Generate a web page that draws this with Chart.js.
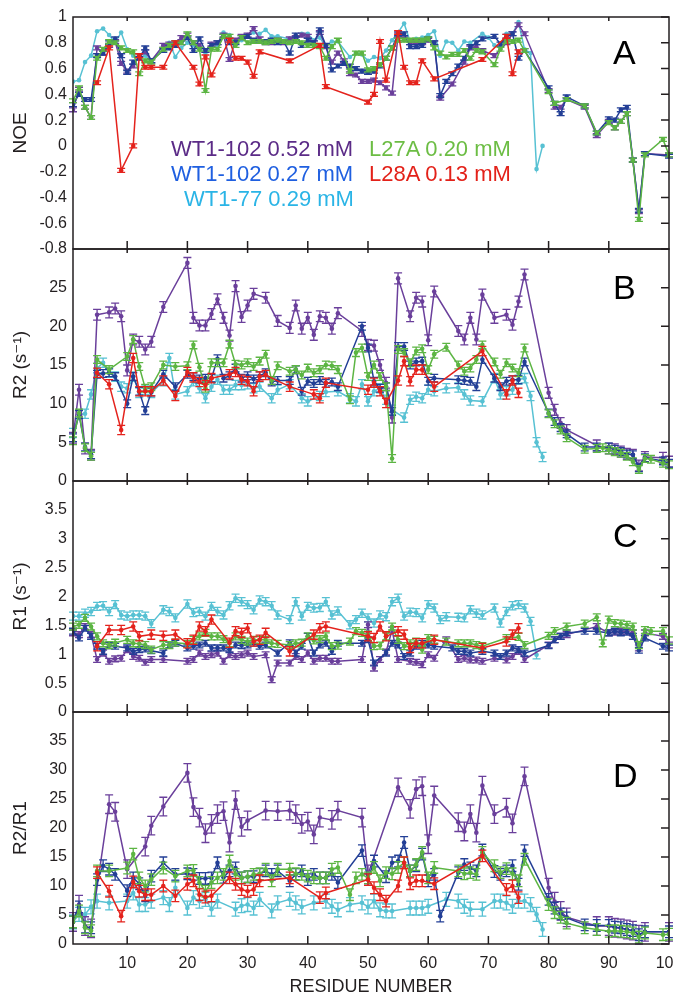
<!DOCTYPE html>
<html>
<head>
<meta charset="utf-8">
<script src="https://cdn.jsdelivr.net/npm/chart.js@4.4.1/dist/chart.umd.min.js"></script>
<style>
  html, body { margin: 0; padding: 0; background: #fff; }
  #fig { position: relative; width: 673px; height: 996px; overflow: hidden; font-family: "Liberation Sans", Arial, sans-serif; }
  #fig canvas { position: absolute; left: 0; }
  .tag { position: absolute; left: 613px; font-size: 34px; line-height: 1; color: #000; }
  .lg { position: absolute; font-size: 22px; line-height: 1; white-space: nowrap; }
</style>
</head>
<body>
<div id="fig">
  <canvas id="cA" width="673" height="262" style="top:0px"></canvas>
  <canvas id="cB" width="673" height="250" style="top:241px"></canvas>
  <canvas id="cC" width="673" height="250" style="top:473px"></canvas>
  <canvas id="cD" width="673" height="292" style="top:704px"></canvas>

  <div class="lg" style="left:171px;top:138px;color:#5b2b87">WT1-102 0.52 mM</div>
  <div class="lg" style="left:171px;top:163px;color:#1f5fe0">WT1-102 0.27 mM</div>
  <div class="lg" style="left:184px;top:188px;color:#2ab4e6">WT1-77 0.29 mM</div>
  <div class="lg" style="left:369px;top:138px;color:#6cbd44">L27A 0.20 mM</div>
  <div class="lg" style="left:369px;top:163px;color:#e32119">L28A 0.13 mM</div>

  <div class="tag" style="top:35px">A</div>
  <div class="tag" style="top:270px">B</div>
  <div class="tag" style="top:518px">C</div>
  <div class="tag" style="top:758px">D</div>
</div>

<script>
// ── DATA ─────────────────────────────────────────────────────────────────────
const _ = null;

const residues = [
  1, 2, 3, 4, 5, 6, 7, 8, 9, 10,
  11, 12, 13, 14, 15, 16, 17, 18, 19, 20,
  21, 22, 23, 24, 25, 26, 27, 28, 29, 30,
  31, 32, 33, 34, 35, 36, 37, 38, 39, 40,
  41, 42, 43, 44, 45, 46, 47, 48, 49, 50,
  51, 52, 53, 54, 55, 56, 57, 58, 59, 60,
  61, 62, 63, 64, 65, 66, 67, 68, 69, 70,
  71, 72, 73, 74, 75, 76, 77, 78, 79, 80,
  81, 82, 83, 84, 85, 86, 87, 88, 89, 90,
  91, 92, 93, 94, 95, 96, 97, 98, 99, 100
];

const xTicks = [10, 20, 30, 40, 50, 60, 70, 80, 90, 100];
const noeTicks = [-0.8, -0.6, -0.4, -0.2, 0, 0.2, 0.4, 0.6, 0.8, 1];
const r2Ticks = [0, 5, 10, 15, 20, 25];
const r1Ticks = [0, 0.5, 1, 1.5, 2, 2.5, 3, 3.5];
const ratioTicks = [0, 5, 10, 15, 20, 25, 30, 35];

// series order everywhere: WT1-102 0.52, WT1-102 0.27, WT1-77, L27A, L28A
const seriesNames = ['WT1-102 0.52 mM', 'WT1-102 0.27 mM', 'WT1-77 0.29 mM', 'L27A 0.20 mM', 'L28A 0.13 mM'];

// NOE
const noeWT52 = [
  .28, .44, .30, .22, .76, .72, .78, .81, .64, .58,
  .62, .70, .73, .66, _, .78, .79, .80, .84, .86,
  .80, .78, .74, .79, .80, .86, .67, .82, .85, .86,
  .91, .83, .80, .80, .82, .80, .83, .84, .86, .85,
  .80, .88, .77, .65, .72, .66, .56, .55, .50, .50,
  .51, .49, .45, .41, .86, .83, .80, .81, .80, .82,
  .80, .37, _, .48, _, .65, .76, .77, .74, _,
  .70, _, .80, .87, .94, .87, _, _, _, .43,
  .30, .30, .36, _, _, .30, _, .08, _, .19,
  .14, .19, .25, -.11, -.51, -.06, _, _, _, -.07
];
const noeWT27 = [
  .32, .40, .36, .36, .70, .72, .80, .83, .70, .57,
  .65, .68, .76, .66, _, .74, .76, .78, .80, .84,
  .74, .83, .74, .78, .80, .85, .80, .80, .84, .85,
  .82, .81, .81, .82, .80, .81, .72, .86, .78, .82,
  .80, .90, .78, .59, .62, .64, .62, .60, .58, .57,
  .58, .62, .68, .76, .87, .87, .77, .77, .78, .83,
  .80, .39, .50, .56, .62, .68, .77, .80, .83, _,
  .85, .79, .85, .87, .68, .74, _, _, _, .45,
  .33, .25, .38, _, _, .31, _, .10, _, .21,
  .20, .28, .30, -.11, -.50, -.06, _, _, _, -.08
];
const noeWT77 = [
  .50, .51, .65, .70, .89, .91, .86, .80, .88, .75,
  .70, .68, .70, .65, _, .78, .80, .69, .76, .80,
  .78, .75, .72, .76, .78, .88, .86, .80, .82, .85,
  .88, .87, .90, .85, .85, _, .83, .84, .87, .87,
  .82, .84, .77, .81, .81, _, .69, .72, .71, .66,
  .69, .68, .74, .82, .88, .95, .81, .83, .84, .86,
  .89, .70, .81, .80, .74, .81, .80, _, .87, .84,
  .78, .76, .87, .87, .96, .75, .72, -.18, .00, _,
  _, _, _, _, _, _, _, _, _, _,
  _, _, _, _, _, _, _, _, _, _
];
const noeL27A = [
  .35, .45, .30, .22, .68, .75, .81, .80, .76, .74,
  .73, .56, .66, .65, _, .75, .78, .80, .80, .87,
  .80, .75, .43, .75, .75, .85, .85, .78, .84, .80,
  .81, .81, .80, .81, .82, .81, .80, .81, .80, .78,
  .78, .77, .68, .77, .82, _, .58, .72, .72, .59,
  .60, .63, .68, .76, .82, .82, .82, .82, .82, .83,
  .76, .72, .69, .71, .71, .74, .68, .74, .73, _,
  .63, .75, .81, .81, .82, .74, _, _, _, .42,
  .33, _, .36, _, _, .31, _, .10, _, .18,
  .14, .19, .25, -.11, -.57, -.07, _, _, .05, -.07
];
const noeL28A = [
  _, _, _, _, .49, _, .76, _, -.19, _,
  .00, .70, .61, .61, _, .61, _, .80, _, _,
  .61, .48, .69, .55, _, _, .82, .68, .68, .65,
  .54, .73, _, _, _, _, .66, _, _, _,
  _, .78, .46, _, _, _, _, _, _, .34,
  .40, .81, .51, _, .88, .61, .49, .49, .66, _,
  .52, _, _, _, _, _, _, _, .67, _,
  _, _, .85, .56, .73, _, _, _, _, _,
  _, _, _, _, _, _, _, _, _, _,
  _, _, _, _, _, _, _, _, _, _
];

// R2 (s-1)
const r2WT52 = [
  5.6, 11.8, 4.2, 3.4, 21.5, _, 21.8, 22.3, 21.3, 14.3,
  18.3, 18.0, 17.0, 18.0, _, 22.5, _, _, _, 28.2,
  21.1, 20.1, 20.1, 21.6, 23.5, 21.1, 18.8, 25.2, 21.2, 22.7,
  24.2, _, 23.7, _, 20.7, _, 19.8, 22.7, 19.7, 21.1,
  18.9, 21.3, 21.1, 19.7, 21.7, _, _, _, 19.4, 17.6,
  17.5, 15.0, 12.7, 8.2, 26.2, _, 21.3, 23.7, 23.2, 18.2,
  24.5, _, _, _, 19.4, 18.3, 21.1, 18.3, 24.1, _,
  21.1, _, 21.5, 20.2, 23.2, 26.7, _, _, _, 11.4,
  9.2, 7.5, 6.6, _, _, _, _, 4.6, _, 4.2,
  4.1, 3.8, 3.5, 3.4, 2.0, 3.1, _, _, 3.0, 2.5
];
const r2WT27 = [
  5.6, 8.6, 4.4, 3.4, 13.8, 13.9, 14.0, 13.5, _, 10.0,
  13.5, 11.6, 9.1, 11.5, _, 13.8, _, 12.2, _, 13.8,
  13.5, 13.2, 13.3, 13.3, 15.8, 13.3, 13.6, 14.6, 13.3, 13.6,
  13.2, 13.6, 14.0, 12.8, 13.0, _, 13.0, 14.4, 11.6, 12.9,
  12.6, 13.0, 12.6, 12.8, 12.2, _, _, _, 20.0, 17.2,
  12.9, 12.0, 12.2, 9.0, 17.4, 17.4, 15.0, 15.4, 15.5, 12.9,
  13.3, _, _, _, 13.1, 13.0, 12.9, 12.2, 15.7, _,
  13.3, 12.2, 12.9, 13.1, 13.1, 15.4, _, _, _, 8.8,
  7.7, 6.9, 6.1, _, _, 4.4, _, 4.4, _, 4.4,
  4.1, 3.8, 3.5, 3.4, 1.7, 3.0, _, _, 2.6, 2.3
];
const r2WT77 = [
  6.2, 8.6, 8.7, 11.2, 14.6, 15.3, 14.0, 13.5, 12.2, 12.0,
  13.5, 11.4, 11.8, 11.4, _, 12.9, 15.9, 11.2, _, 11.6,
  12.9, 12.0, 10.7, 12.2, 13.1, 11.8, 11.8, 12.4, 12.4, 12.5,
  12.0, 12.2, _, 10.7, 11.8, _, 12.5, _, 10.7, 10.3,
  _, 11.0, 11.5, _, 11.6, _, 10.7, 10.3, 12.5, 10.3,
  11.6, 12.0, 10.5, 9.2, _, 8.2, 10.5, 10.9, 10.7, 11.8,
  11.6, _, 12.0, _, 12.1, 11.2, 10.4, _, 10.3, _,
  13.3, 11.2, 11.6, 11.8, 13.1, 13.3, 11.0, 5.0, 3.1, _,
  _, _, _, _, _, _, _, _, _, _,
  _, _, _, _, _, _, _, _, _, _
];
const r2L27A = [
  5.2, 8.8, 4.3, 3.2, 15.7, _, 14.4, _, _, 16.1,
  18.3, 14.8, 12.0, 12.2, _, 15.0, _, 14.8, _, 14.9,
  17.6, 14.7, 12.0, 15.3, 15.3, 15.3, 17.7, 15.1, 15.0, 15.3,
  14.8, 15.5, 16.4, 13.0, 14.9, _, 14.2, 14.4, 13.7, 14.6,
  14.0, 14.4, 15.0, 14.9, 14.4, _, 10.5, 16.6, 17.2, 13.5,
  15.0, 13.5, 12.2, 2.9, 17.0, 16.6, 15.3, 16.8, 17.1, 14.4,
  16.4, _, 17.3, _, 15.0, 14.2, 14.6, 15.7, 17.6, _,
  15.4, 13.8, 15.3, 14.6, 14.0, 17.2, _, _, _, 8.7,
  7.4, 6.6, 5.6, _, _, 4.1, _, 4.2, 4.3, 4.0,
  3.8, 3.6, 3.2, 2.5, 1.5, 2.9, 2.8, _, 2.3, 2.1
];
const r2L28A = [
  _, _, _, _, 14.0, _, 12.5, _, 6.6, _,
  15.9, 11.6, 11.6, 11.6, _, 13.0, _, 11.0, _, 14.1,
  13.4, 12.8, 12.4, 13.3, _, _, 13.8, 14.1, 13.1, 12.9,
  11.6, 13.5, 13.7, _, _, _, 12.2, _, _, _,
  11.2, 10.7, 12.7, _, _, _, _, _, _, 11.8,
  12.7, 11.6, 10.1, _, 13.0, 15.5, 12.9, 14.4, 14.4, _,
  12.2, _, _, _, _, _, _, _, 16.8, _,
  _, _, 11.2, 13.0, 11.4, _, _, _, _, _,
  _, _, _, _, _, _, _, _, _, _,
  _, _, _, _, _, _, _, _, _, _
];

// R1 (s-1)
const r1WT52 = [
  1.37, 1.34, 1.48, 1.34, 0.91, 1.02, 0.88, 0.92, 0.93, 1.08,
  0.96, 0.93, 0.86, 0.91, _, 0.91, _, _, _, 0.88,
  0.91, 1.02, 0.96, 0.99, 1.02, 0.88, 0.99, 0.96, 0.99, 1.02,
  0.96, _, 0.99, 0.56, 0.85, _, 0.85, 0.96, 0.91, 1.02,
  0.88, 0.93, 0.93, 0.88, 0.88, _, _, _, 0.91, 1.51,
  0.76, 0.91, 1.04, 1.42, 0.91, _, 0.88, 0.86, 0.82, 0.99,
  0.93, _, 1.25, _, 0.91, 0.93, 0.90, 0.90, 0.88, _,
  0.93, _, 0.90, 0.96, 1.05, 0.91, _, _, _, 1.16,
  1.25, 1.31, 1.34, _, _, _, _, 1.48, _, 1.37,
  1.38, 1.40, 1.40, 1.37, 1.11, 1.37, _, _, 1.31, 1.16
];
const r1WT27 = [
  1.40, 1.28, 1.45, 1.31, 1.14, 1.05, 1.15, 1.14, _, 1.11,
  1.05, 1.08, 1.09, 1.06, _, 1.02, 1.16, 1.19, _, 1.11,
  1.14, 1.16, 1.19, 1.11, 1.11, 1.11, 1.08, 1.16, 1.15, 1.16,
  1.19, 1.14, 1.16, _, 1.02, _, 1.20, 1.02, 1.14, 1.31,
  1.02, 1.16, 1.19, 1.05, 1.19, _, _, _, 1.19, 1.25,
  0.85, _, 1.02, 1.19, 1.16, 0.96, 1.02, 1.14, 1.19, 1.16,
  1.14, _, _, 1.11, 1.05, 1.05, 1.02, _, 1.05, _,
  1.02, 0.96, 1.02, 1.11, 1.08, 1.02, _, _, _, 1.15,
  1.25, 1.31, 1.37, _, _, 1.40, _, 1.40, _, 1.37,
  1.40, 1.37, 1.38, 1.31, 1.07, 1.28, _, _, 1.14, 1.11
];
const r1WT77 = [
  1.66, 1.66, 1.71, 1.74, 1.83, 1.84, 1.74, 1.86, 1.68, 1.66,
  1.68, 1.68, 1.66, 1.53, _, 1.77, 1.74, 1.63, _, 1.87,
  1.72, 1.74, 1.66, 1.83, 1.74, 1.68, 1.84, 1.97, 1.91, 1.86,
  1.77, 1.94, 1.91, 1.84, 1.68, _, 1.60, 1.91, 1.66, 1.83,
  1.80, 1.81, 1.91, 1.68, 1.75, _, 1.51, 1.60, 1.71, 1.63,
  1.54, 1.68, 1.65, 1.91, 1.97, 1.66, 1.73, 1.72, 1.63, 1.86,
  1.80, 1.60, 1.65, _, 1.64, 1.63, 1.77, 1.71, 1.68, _,
  1.80, 1.54, 1.74, 1.84, 1.86, 1.80, 1.57, 0.99, _, _,
  _, _, _, _, _, _, _, _, _, _,
  _, _, _, _, _, _, _, _, _, _
];
const r1L27A = [
  1.48, 1.51, 1.63, 1.48, 1.31, 1.19, 1.16, 1.20, _, 1.25,
  1.19, 1.18, 1.16, 1.08, _, 1.16, 1.16, 1.20, _, 1.18,
  1.25, 1.31, 1.37, 1.31, 1.31, 1.26, 1.19, 1.31, 1.25, 1.22,
  1.25, 1.25, 1.25, 1.19, 1.18, _, 1.16, 1.19, 1.20, 1.31,
  1.24, 1.26, 1.31, 1.14, 1.15, _, 1.22, 1.40, 1.37, 1.34,
  1.14, 1.15, 1.31, 1.48, 1.25, 1.14, 1.19, 1.22, 1.08, 1.28,
  1.25, _, 1.22, _, 1.19, 1.19, 1.19, 1.16, 1.14, _,
  _, _, 1.28, _, 1.30, 1.16, _, _, _, 1.32,
  1.40, _, 1.48, _, _, 1.53, _, 1.64, 1.19, 1.60,
  1.54, 1.53, 1.51, 1.48, 1.16, 1.42, 1.40, _, 1.40, 1.24
];
const r1L28A = [
  _, _, _, _, 1.14, _, 1.42, _, 1.42, _,
  1.48, 1.31, _, 1.34, _, 1.32, _, 1.34, _, 1.19,
  1.25, 1.48, 1.40, 1.60, _, _, 1.20, 1.40, 1.37, 1.45,
  1.22, 1.25, 1.37, _, _, _, 1.05, _, _, _,
  1.34, 1.45, 1.48, _, _, _, _, _, _, 1.31,
  1.28, 1.48, 1.31, _, 1.40, 1.34, 1.11, 1.19, 1.19, _,
  1.25, _, _, _, _, _, _, _, 1.11, _,
  _, _, 1.22, 1.34, 1.45, _, _, _, _, _,
  _, _, _, _, _, _, _, _, _, _,
  _, _, _, _, _, _, _, _, _, _
];

// R2/R1
const ratioWT52 = [
  3.8, 6.8, 3.1, 2.7, _, _, 24.1, 22.8, _, 12.9,
  _, _, 16.8, 20.4, _, 23.7, _, _, _, 29.5,
  23.6, 21.8, 19.1, 20.7, 22.4, 22.9, 17.5, 24.8, 20.2, 21.3,
  _, _, 23.0, _, 22.9, _, 23.0, 22.4, 20.7, 21.1,
  18.9, 21.8, _, 21.4, 23.0, _, _, _, 21.8, 12.0,
  _, _, _, _, 27.0, _, 23.3, 26.7, 27.2, 17.2,
  25.6, _, _, _, 21.0, 19.4, 22.4, 19.2, 27.3, _,
  22.4, _, 23.5, 20.8, _, 28.9, _, _, _, 9.7,
  7.3, 5.7, 4.6, _, _, _, _, 3.1, _, 3.1,
  2.8, 2.7, 2.5, 2.3, 1.6, 2.1, _, _, _, 2.1
];
const ratioWT27 = [
  3.8, 6.4, 2.9, 2.8, 11.1, 13.5, 12.9, 12.0, _, 9.2,
  11.4, 10.4, 8.3, 11.7, _, 14.0, _, 12.0, _, 12.1,
  12.0, 11.3, 11.3, 11.4, 14.0, 11.5, 12.6, 13.1, 11.4, 11.6,
  11.6, 12.0, 12.6, 12.0, 12.6, _, 10.9, 12.0, 12.6, 11.1,
  12.0, 11.4, 11.4, 12.0, 10.6, _, _, _, 16.1, 11.1,
  14.3, _, 11.6, 14.0, 14.3, 17.5, 12.6, 13.5, 15.5, 10.9,
  12.0, 4.8, _, _, 12.3, 13.7, 13.1, 12.6, 16.2, _,
  12.5, 12.0, 12.6, 13.5, 10.3, 16.1, _, _, _, 7.7,
  6.2, 5.2, 4.5, _, _, 3.3, _, 3.2, _, 3.2,
  2.9, 2.8, 2.5, 2.3, 1.6, 2.1, _, _, _, 2.1
];
const ratioWT77 = [
  3.8, 5.1, 5.1, 6.4, 7.4, _, 7.1, _, _, 7.4,
  8.8, 6.8, 6.8, 7.4, _, 8.0, 6.8, 9.7, _, 6.2,
  8.0, 7.4, 7.7, 6.0, 7.4, _, _, 6.0, 6.6, 6.8,
  6.2, 7.7, _, 5.7, 7.1, _, 7.7, 7.1, 6.4, _,
  7.1, _, 7.4, 6.5, 5.9, _, 6.8, _, 7.1, 6.4,
  7.4, 5.9, 5.7, 5.7, _, _, 6.2, 6.2, 6.2, 6.5,
  _, _, 7.7, _, 7.4, 6.5, 6.0, _, 6.0, _,
  7.4, 7.4, 7.1, 6.5, 7.4, 7.4, 6.8, 5.1, 2.5, _,
  _, _, _, _, _, _, _, _, _, _,
  _, _, _, _, _, _, _, _, _, _
];
const ratioL27A = [
  3.8, 5.7, 2.8, 2.3, 12.6, _, 12.6, _, _, 13.1,
  15.5, 11.4, 10.0, 11.1, _, 13.1, _, 11.7, _, 12.6,
  12.7, 10.6, 9.1, 10.6, 11.4, 12.0, 14.3, 12.0, 11.4, 11.6,
  12.0, 12.1, 12.9, 10.9, 12.9, _, 12.9, 12.1, 12.0, 11.7,
  11.4, 11.4, 11.4, 12.9, 13.2, _, 8.5, 11.4, 12.0, 11.4,
  13.2, 10.9, 12.3, 12.1, 13.2, 14.0, 12.6, 13.7, 15.8, 11.4,
  13.2, _, _, _, 12.6, 12.1, 12.3, 12.0, 15.8, _,
  13.5, 12.3, 13.0, 12.1, 10.9, 14.6, _, _, _, 6.8,
  5.4, 4.6, 3.6, _, _, 2.8, _, 2.5, _, 2.2,
  2.3, 2.2, 2.1, 1.9, 1.2, 1.9, _, _, 1.6, 1.7
];
const ratioL28A = [
  _, _, _, _, 12.3, _, 9.1, _, 4.8, _,
  10.7, 9.1, 8.5, 8.5, _, 10.0, _, 8.3, _, 10.3,
  10.9, 8.5, 8.1, 8.3, _, _, 11.4, 10.3, 9.4, 9.1,
  9.4, 10.9, _, _, _, _, 11.4, _, _, _,
  _, 8.0, 8.8, _, _, _, _, _, _, 11.1,
  9.7, 8.5, 7.4, _, 10.0, 14.0, 10.4, 10.9, 10.9, _,
  10.4, _, _, _, _, _, _, _, 15.2, _,
  _, _, 9.4, 10.0, 8.0, _, _, _, _, _,
  _, _, _, _, _, _, _, _, _, _,
  _, _, _, _, _, _, _, _, _, _
];

// typical error (±) per series, same order as seriesNames
const noeErr = [0.015, 0.015, 0, 0.015, 0.015];
const r2Err = [0.7, 0.5, 0.6, 0.5, 0.6];
const r1Err = [0.05, 0.05, 0.07, 0.06, 0.08];
const ratioErr = [1.6, 1.0, 1.2, 1.0, 1.0];

// ── STYLE ────────────────────────────────────────────────────────────────────
const lineColors = ['#6a3f9b', '#233f96', '#57c1d3', '#5cb543', '#e4231d'];
const drawOrder = [4, 3, 1, 0, 2]; // first entry ends up on top
const INK = '#231f20';
const FONT = "'Liberation Sans', Arial, 'DejaVu Sans', sans-serif";
Chart.defaults.font.family = FONT;
Chart.defaults.color = INK;

// ── PLUGINS ──────────────────────────────────────────────────────────────────
const errorBars = {
  id: 'errorBars',
  afterDatasetDraw(chart, args) {
    const ds = chart.data.datasets[args.index];
    if (!ds.err) return;
    const y = chart.scales.y, c = chart.ctx;
    c.save();
    c.strokeStyle = ds.borderColor; c.lineWidth = 1.3;
    args.meta.data.forEach((pt, i) => {
      const v = ds.data[i].y;
      if (v === null) return;
      const top = y.getPixelForValue(v + ds.err), bot = y.getPixelForValue(v - ds.err);
      c.beginPath();
      c.moveTo(pt.x, top); c.lineTo(pt.x, bot);
      c.moveTo(pt.x - 4, top); c.lineTo(pt.x + 4, top);
      c.moveTo(pt.x - 4, bot); c.lineTo(pt.x + 4, bot);
      c.stroke();
    });
    c.restore();
  }
};

// box round each panel, inward ticks on the right, top and bottom
const frame = {
  id: 'frame',
  afterDraw(chart) {
    const { ctx: c, chartArea: a, scales: { x, y } } = chart;
    c.save();
    c.strokeStyle = INK; c.lineWidth = 1.5;
    c.strokeRect(a.left, a.top, a.right - a.left, a.bottom - a.top);
    c.beginPath();
    y.ticks.forEach(t => {
      const p = y.getPixelForValue(t.value);
      c.moveTo(a.right, p); c.lineTo(a.right - 8, p);
    });
    xTicks.forEach(v => {
      if (v >= 100) return;
      const p = x.getPixelForValue(v);
      c.moveTo(p, a.bottom); c.lineTo(p, a.bottom - 8);
      c.moveTo(p, a.top); c.lineTo(p, a.top + 4);
    });
    c.stroke();
    c.restore();
  }
};

// ── PANELS ───────────────────────────────────────────────────────────────────
function makePanel(id, cfg) {
  const datasets = drawOrder.map(k => ({
    label: seriesNames[k],
    data: residues.map((r, i) => ({ x: r, y: cfg.series[k][i] })),
    err: cfg.err[k],
    borderColor: lineColors[k],
    backgroundColor: lineColors[k],
    borderWidth: 1.5,
    pointRadius: 2.3,
    pointBorderWidth: 0,
    pointBackgroundColor: lineColors[k],
    spanGaps: true,
    tension: 0
  }));

  new Chart(document.getElementById(id), {
    type: 'line',
    data: { datasets },
    options: {
      responsive: false, animation: false, events: [],
      layout: { padding: { left: 0, right: 4, top: cfg.padTop, bottom: cfg.padBottom } },
      plugins: { legend: { display: false }, tooltip: { enabled: false } },
      scales: {
        x: {
          type: 'linear', min: 1, max: 100, display: cfg.showX,
          afterBuildTicks: s => { s.ticks = xTicks.map(v => ({ value: v })); },
          afterFit: s => { s.height = cfg.showX ? 52 : 0; s.paddingLeft = 0; s.paddingRight = 0; },
          grid: { display: false }, border: { display: false },
          ticks: { font: { size: 16 }, color: INK, padding: 2, maxRotation: 0, autoSkip: false },
          title: { display: true, text: 'RESIDUE NUMBER', color: INK, font: { size: 18, lineHeight: 1 }, padding: 0 }
        },
        y: {
          type: 'linear', min: cfg.min, max: cfg.max,
          afterBuildTicks: s => { s.ticks = cfg.ticks.map(v => ({ value: v })); },
          afterFit: s => { s.width = 73; s.paddingTop = 0; s.paddingBottom = 0; },
          grid: { display: false, drawTicks: false }, border: { display: false },
          ticks: { font: { size: 16 }, color: INK, padding: 6, callback: v => String(v) },
          title: { display: true, text: cfg.title, color: INK, font: { size: 19 }, padding: { top: 9, bottom: 0 } }
        }
      }
    },
    plugins: [errorBars, frame]
  });
}

makePanel('cA', {
  title: 'NOE', min: -0.8, max: 1, ticks: noeTicks, padTop: 17, padBottom: 13, showX: false,
  series: [noeWT52, noeWT27, noeWT77, noeL27A, noeL28A], err: noeErr
});
makePanel('cB', {
  title: 'R2 (s\u207B\u00B9)', min: 0, max: 30, ticks: r2Ticks, padTop: 8, padBottom: 10, showX: false,
  series: [r2WT52, r2WT27, r2WT77, r2L27A, r2L28A], err: r2Err
});
makePanel('cC', {
  title: 'R1 (s\u207B\u00B9)', min: 0, max: 4, ticks: r1Ticks, padTop: 8, padBottom: 11, showX: false,
  series: [r1WT52, r1WT27, r1WT77, r1L27A, r1L28A], err: r1Err
});
makePanel('cD', {
  title: 'R2/R1', min: 0, max: 40, ticks: ratioTicks, padTop: 8, padBottom: 0, showX: true,
  series: [ratioWT52, ratioWT27, ratioWT77, ratioL27A, ratioL28A], err: ratioErr
});
</script>
</body>
</html>
